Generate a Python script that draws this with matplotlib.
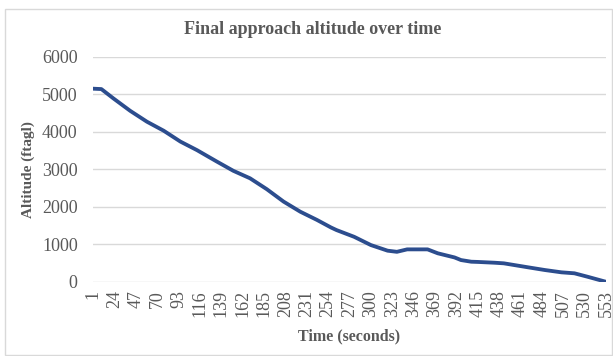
# Final approach altitude over time - line chart in the Excel look

import matplotlib.pyplot as plt
from matplotlib.patches import Rectangle

time_s = [1, 10, 23, 41, 59, 77, 95, 113, 127, 134, 152, 170, 188, 206, 224,
          242, 257, 263, 282, 300, 318, 328, 339, 361, 372, 390, 397, 408,
          415, 433, 443, 469, 487, 505, 519, 533, 553]
altitude_ft = [5150, 5140, 4890, 4560, 4270, 4030, 3740, 3510, 3310, 3210,
               2960, 2760, 2470, 2140, 1870, 1650, 1450, 1380, 1200, 980,
               830, 800, 865, 865, 760, 650, 580, 536, 530, 509, 493, 387,
               315, 253, 227, 136, 0]
x_ticks = list(range(1, 554, 23))
y_ticks = [0, 1000, 2000, 3000, 4000, 5000, 6000]

GRAY = "#595959"


def main():
    plt.rcParams["font.family"] = ["Liberation Serif", "DejaVu Serif"]

    fig = plt.figure(figsize=(6.13, 3.56), dpi=100)
    fig.patches.append(Rectangle((5 / 613, 1 / 356), 607 / 613, 346 / 356,
                                 transform=fig.transFigure, fill=False,
                                 edgecolor="#D9D9D9", linewidth=1))

    ax = fig.add_axes([0.1517, 0.2084, 0.8369, 0.632])
    ax.plot(time_s, altitude_ft, color="#2C4D8E", linewidth=2.75,
            solid_capstyle="round")

    ax.set_xlim(1, 553)
    ax.set_ylim(0, 6000)
    ax.set_xticks(x_ticks)
    ax.set_xticklabels([str(t) for t in x_ticks], rotation=90)
    ax.set_yticks(y_ticks)
    ax.tick_params(axis="both", length=0, labelsize=13, labelcolor=GRAY)
    ax.tick_params(axis="y", pad=11)
    ax.tick_params(axis="x", pad=6)
    ax.grid(axis="y", color="#D9D9D9", linewidth=1)
    ax.set_axisbelow(True)
    for s in ax.spines.values():
        s.set_visible(False)

    fig.text(313 / 613, 1 - 30 / 356, "Final approach altitude over time",
             fontsize=13, fontweight="bold", color=GRAY,
             ha="center", va="center")
    ax.set_xlabel("Time (seconds)", fontsize=11.5, fontweight="bold",
                  color=GRAY, labelpad=8)
    ax.set_ylabel("Altitude (ftagl)", fontsize=11, fontweight="bold",
                  color=GRAY, labelpad=5)

    fig.savefig("out.png", dpi=100)


if __name__ == "__main__":
    main()
